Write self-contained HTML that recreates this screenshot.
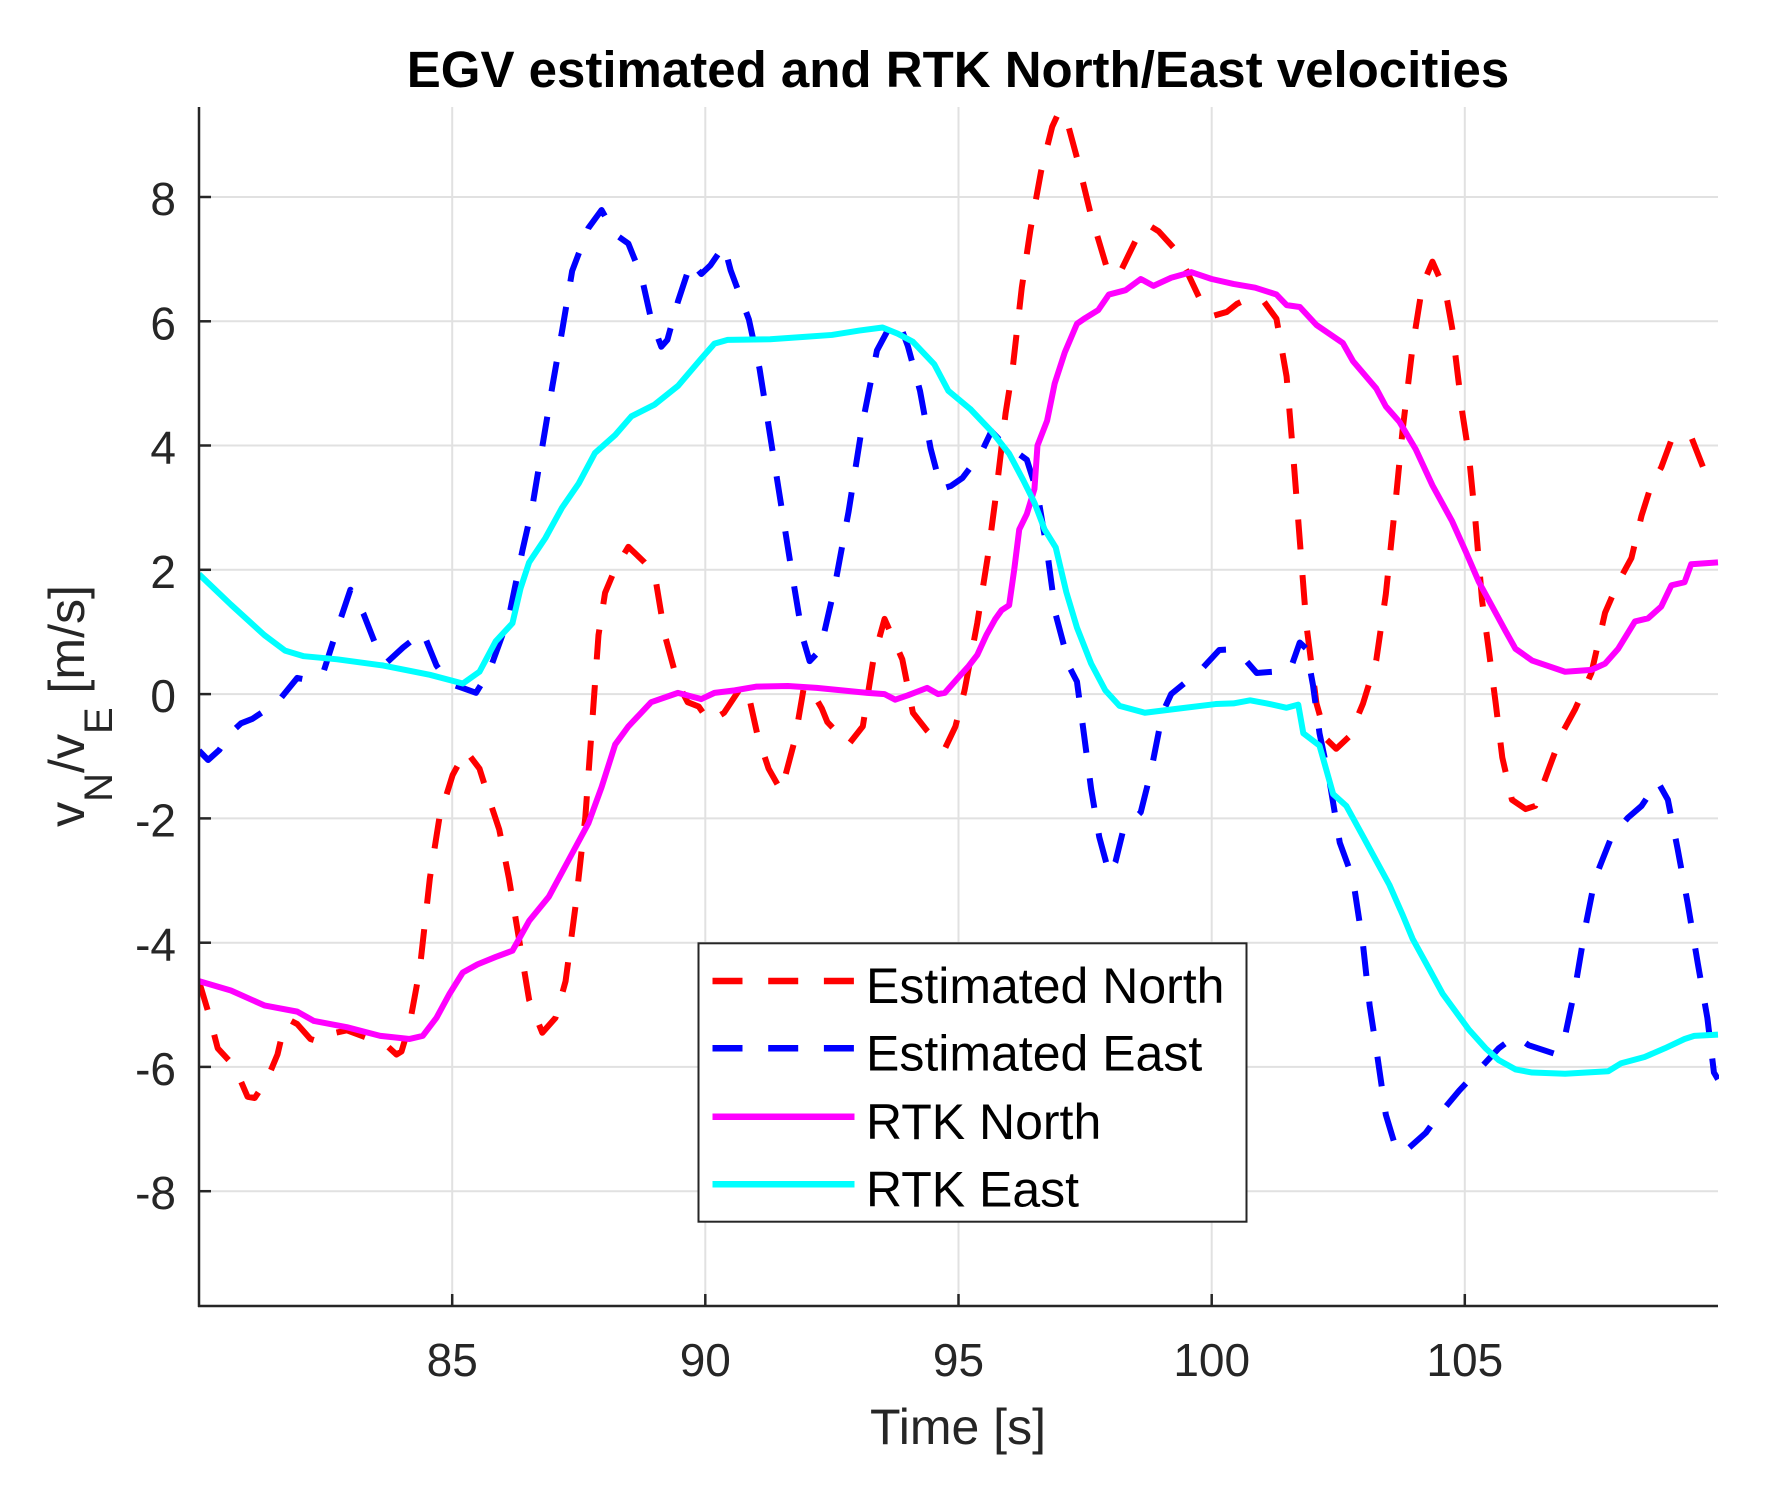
<!DOCTYPE html>
<html>
<head>
<meta charset="utf-8">
<style>
html,body{margin:0;padding:0;background:#fff;}
svg{display:block;}
text{font-family:"Liberation Sans",Arial,sans-serif;}
</style>
</head>
<body>
<svg width="1781" height="1490" viewBox="0 0 1781 1490" xmlns="http://www.w3.org/2000/svg">
<rect x="0" y="0" width="1781" height="1490" fill="#fff"/>
<defs>
<clipPath id="pc" clipPathUnits="userSpaceOnUse"><rect x="199" y="107" width="1520" height="1199"/></clipPath>
</defs>

<!-- grid -->
<g stroke="#e1e1e1" stroke-width="2" fill="none">
<line x1="452.2" y1="107" x2="452.2" y2="1306"/>
<line x1="705.3" y1="107" x2="705.3" y2="1306"/>
<line x1="958.5" y1="107" x2="958.5" y2="1306"/>
<line x1="1211.7" y1="107" x2="1211.7" y2="1306"/>
<line x1="1464.8" y1="107" x2="1464.8" y2="1306"/>
<line x1="199" y1="197.0" x2="1718" y2="197.0"/>
<line x1="199" y1="321.3" x2="1718" y2="321.3"/>
<line x1="199" y1="445.5" x2="1718" y2="445.5"/>
<line x1="199" y1="569.8" x2="1718" y2="569.8"/>
<line x1="199" y1="694.1" x2="1718" y2="694.1"/>
<line x1="199" y1="818.4" x2="1718" y2="818.4"/>
<line x1="199" y1="942.7" x2="1718" y2="942.7"/>
<line x1="199" y1="1066.9" x2="1718" y2="1066.9"/>
<line x1="199" y1="1191.2" x2="1718" y2="1191.2"/>
</g>

<!-- data -->
<g clip-path="url(#pc)">
<g transform="matrix(50.633 0 0 -62.14 -3851.64 694.1)" fill="none" stroke-linejoin="round">
<polyline vector-effect="non-scaling-stroke" stroke="#ff0000" stroke-width="6" stroke-dasharray="30 25.7" points="80,-4.62 80.18,-5.11 80.37,-5.7 80.7,-5.99 80.96,-6.48 81.1,-6.5 81.35,-6.19 81.55,-5.8 81.68,-5.35 81.8,-5.25 81.94,-5.31 82.2,-5.55 82.4,-5.6 82.7,-5.45 82.92,-5.41 83.38,-5.55 83.7,-5.65 83.9,-5.8 84.0,-5.75 84.16,-5.31 84.36,-4.43 84.56,-2.96 84.75,-1.98 85.01,-1.3 85.27,-0.91 85.54,-1.2 85.73,-1.69 85.93,-2.18 86.12,-2.96 86.32,-3.94 86.52,-4.92 86.78,-5.45 87.04,-5.21 87.24,-4.62 87.43,-3.45 87.63,-1.98 87.76,-0.52 87.89,0.95 88.02,1.63 88.22,2.02 88.48,2.37 88.8,2.12 89.0,1.93 89.2,0.95 89.46,0.17 89.65,-0.13 89.87,-0.2 90.08,-0.45 90.37,-0.3 90.72,0.13 90.85,0.0 91.03,-0.66 91.25,-1.2 91.5,-1.56 91.77,-0.73 91.95,0.13 92.1,0.05 92.3,-0.23 92.41,-0.45 92.83,-0.81 93.11,-0.52 93.32,0.56 93.54,1.21 93.89,0.56 94.1,-0.3 94.38,-0.59 94.73,-0.88 94.94,-0.52 95.12,0.06 95.37,1.14 95.58,2.22 95.72,3.08 95.93,4.52 96.07,5.24 96.25,6.54 96.42,7.47 96.63,8.41 96.85,9.13 96.99,9.38 97.15,9.2 97.35,8.6 97.6,7.76 97.97,6.75 98.2,6.8 98.6,7.47 98.75,7.55 98.95,7.45 99.24,7.19 99.5,6.82 99.87,6.18 100.04,6.09 100.3,6.15 100.5,6.28 100.76,6.38 101.02,6.33 101.28,6.04 101.48,5.11 101.61,3.85 101.74,2.48 101.87,1.12 102.07,-0.15 102.27,-0.73 102.46,-0.88 102.72,-0.68 102.99,-0.15 103.25,0.54 103.44,1.61 103.64,3.16 103.77,4.24 103.97,5.6 104.16,6.57 104.36,6.96 104.62,6.48 104.75,5.89 104.95,4.53 105.08,3.85 105.21,2.78 105.34,1.51 105.47,0.73 105.61,-0.15 105.74,-1.02 105.93,-1.7 106.2,-1.85 106.39,-1.8 106.65,-1.22 106.92,-0.63 107.18,-0.24 107.5,0.34 107.77,1.31 108.03,1.8 108.29,2.19 108.49,2.87 108.68,3.36 108.88,3.65 109.08,4.09 109.24,4.04 109.47,4.14 109.73,3.6 110,3.46"/>
<polyline vector-effect="non-scaling-stroke" stroke="#0000ff" stroke-width="6" stroke-dasharray="30 25.7" points="80,-0.91 80.18,-1.06 80.4,-0.9 80.63,-0.62 80.83,-0.47 81.05,-0.4 81.29,-0.27 81.55,-0.13 81.94,0.26 82.2,0.22 82.46,0.36 82.73,1.05 82.99,1.68 83.25,1.29 83.51,0.75 83.71,0.51 84.03,0.75 84.42,1.0 84.69,0.46 84.95,0.17 85.2,0.1 85.47,0.02 85.73,0.36 86.12,1.24 86.39,2.32 86.58,3.0 86.78,3.98 86.98,4.96 87.17,5.84 87.37,6.81 87.69,7.5 87.95,7.79 88.22,7.4 88.48,7.25 88.74,6.72 88.93,6.03 89.13,5.59 89.25,5.7 89.46,6.32 89.72,6.96 89.92,6.76 90.1,6.9 90.37,7.22 90.5,6.82 90.86,6.03 91.07,5.24 91.28,4.16 91.49,3.08 91.7,2.0 91.92,0.92 92.06,0.53 92.27,0.71 92.55,1.71 92.83,2.94 93.11,4.38 93.39,5.53 93.6,5.85 93.82,6.0 94.0,5.6 94.24,4.88 94.45,3.95 94.66,3.3 94.85,3.35 95.08,3.48 95.44,3.87 95.65,4.23 95.8,4.1 96.0,3.98 96.35,3.77 96.56,3.23 96.74,2.36 96.92,1.28 97.2,0.42 97.34,0.2 97.48,-0.66 97.62,-1.53 97.78,-2.3 97.98,-2.9 98.1,-2.7 98.25,-2.2 98.6,-1.9 98.8,-1.25 99.03,-0.3 99.2,0.0 99.5,0.2 99.8,0.4 100.15,0.71 100.4,0.72 100.58,0.63 100.89,0.34 101.22,0.36 101.55,0.39 101.74,0.83 101.87,0.73 102.0,0.15 102.13,-0.63 102.33,-1.41 102.53,-2.39 102.79,-2.97 102.99,-4.04 103.12,-5.01 103.25,-5.7 103.44,-6.77 103.6,-7.2 103.75,-7.4 103.9,-7.3 104.23,-7.06 104.49,-6.77 104.89,-6.38 105.34,-5.99 105.67,-5.7 106.0,-5.5 106.26,-5.65 106.78,-5.79 106.98,-5.5 107.18,-4.72 107.38,-3.75 107.57,-2.97 107.9,-2.29 108.22,-1.99 108.49,-1.8 108.81,-1.41 109.01,-1.7 109.2,-2.48 109.4,-3.36 109.6,-4.33 109.79,-5.21 109.92,-6.09 110,-6.2"/>
<polyline vector-effect="non-scaling-stroke" stroke="#ff00ff" stroke-width="6" points="80,-4.62 80.63,-4.77 81.29,-5.01 81.94,-5.11 82.27,-5.26 82.92,-5.36 83.58,-5.5 84.16,-5.55 84.42,-5.5 84.69,-5.21 84.95,-4.82 85.21,-4.48 85.5,-4.35 85.86,-4.23 86.19,-4.13 86.52,-3.65 86.91,-3.26 87.3,-2.67 87.69,-2.08 87.95,-1.5 88.22,-0.81 88.48,-0.52 88.93,-0.13 89.46,0.02 89.92,-0.08 90.18,0.02 90.58,0.06 91.0,0.12 91.63,0.13 92.2,0.1 92.7,0.06 93.2,0.02 93.54,0.0 93.75,-0.09 94.0,-0.02 94.38,0.1 94.6,0.0 94.73,0.02 95.0,0.27 95.2,0.45 95.37,0.63 95.55,0.95 95.72,1.2 95.85,1.35 96.0,1.43 96.1,2.0 96.2,2.65 96.35,2.9 96.5,3.3 96.56,4.0 96.75,4.4 96.9,5.0 97.1,5.5 97.34,5.96 97.5,6.05 97.76,6.18 97.97,6.43 98.3,6.5 98.6,6.68 98.85,6.57 99.2,6.7 99.6,6.79 100.0,6.68 100.43,6.6 100.86,6.54 101.28,6.43 101.48,6.26 101.74,6.23 102.07,5.94 102.59,5.65 102.79,5.36 103.25,4.92 103.44,4.63 103.71,4.38 104.03,3.94 104.36,3.36 104.75,2.78 105.02,2.29 105.28,1.8 105.54,1.41 105.8,1.02 106.0,0.73 106.33,0.54 106.98,0.36 107.5,0.39 107.77,0.49 108.03,0.73 108.36,1.17 108.62,1.22 108.88,1.41 109.08,1.75 109.34,1.8 109.47,2.09 110,2.12"/>
<polyline vector-effect="non-scaling-stroke" stroke="#00ffff" stroke-width="6" points="80,1.93 80.63,1.44 81.29,0.95 81.7,0.7 82.07,0.61 82.73,0.56 83.64,0.46 84.56,0.31 85.21,0.17 85.54,0.36 85.86,0.85 86.19,1.14 86.35,1.7 86.52,2.12 86.84,2.51 87.17,3.0 87.5,3.39 87.82,3.88 88.22,4.17 88.54,4.47 89.0,4.66 89.46,4.96 89.92,5.4 90.18,5.64 90.44,5.7 91.28,5.71 91.99,5.75 92.5,5.78 93.04,5.85 93.5,5.9 93.8,5.8 94.1,5.67 94.52,5.31 94.8,4.88 95.23,4.59 95.65,4.23 96.0,3.87 96.28,3.44 96.5,3.08 96.7,2.65 96.92,2.36 97.13,1.64 97.34,1.07 97.62,0.49 97.9,0.06 98.18,-0.19 98.68,-0.3 99.38,-0.23 100.08,-0.16 100.43,-0.15 100.76,-0.1 101.09,-0.15 101.48,-0.22 101.71,-0.17 101.81,-0.63 102.13,-0.83 102.4,-1.61 102.66,-1.8 102.99,-2.29 103.25,-2.68 103.51,-3.07 103.77,-3.55 103.97,-3.94 104.3,-4.43 104.56,-4.82 104.82,-5.11 105.08,-5.4 105.41,-5.7 105.67,-5.89 106.0,-6.04 106.33,-6.09 106.98,-6.11 107.83,-6.07 108.09,-5.94 108.55,-5.84 108.95,-5.7 109.34,-5.55 109.53,-5.5 110,-5.48"/>
</g>
</g>

<!-- axes -->
<g stroke="#262626" stroke-width="2.5" fill="none">
<line x1="199" y1="107" x2="199" y2="1307"/>
<line x1="198" y1="1306" x2="1718" y2="1306"/>
<line x1="199" y1="197.0" x2="211" y2="197.0"/>
<line x1="199" y1="321.3" x2="211" y2="321.3"/>
<line x1="199" y1="445.5" x2="211" y2="445.5"/>
<line x1="199" y1="569.8" x2="211" y2="569.8"/>
<line x1="199" y1="694.1" x2="211" y2="694.1"/>
<line x1="199" y1="818.4" x2="211" y2="818.4"/>
<line x1="199" y1="942.7" x2="211" y2="942.7"/>
<line x1="199" y1="1066.9" x2="211" y2="1066.9"/>
<line x1="199" y1="1191.2" x2="211" y2="1191.2"/>
<line x1="452.2" y1="1306" x2="452.2" y2="1294"/>
<line x1="705.3" y1="1306" x2="705.3" y2="1294"/>
<line x1="958.5" y1="1306" x2="958.5" y2="1294"/>
<line x1="1211.7" y1="1306" x2="1211.7" y2="1294"/>
<line x1="1464.8" y1="1306" x2="1464.8" y2="1294"/>
</g>

<!-- tick labels -->
<g fill="#262626" font-size="46" text-anchor="end">
<text x="176" y="215">8</text>
<text x="176" y="339.3">6</text>
<text x="176" y="463.5">4</text>
<text x="176" y="587.8">2</text>
<text x="176" y="712.1">0</text>
<text x="176" y="836.4">-2</text>
<text x="176" y="960.7">-4</text>
<text x="176" y="1084.9">-6</text>
<text x="176" y="1209.2">-8</text>
</g>
<g fill="#262626" font-size="46" text-anchor="middle">
<text x="452.2" y="1376">85</text>
<text x="705.3" y="1376">90</text>
<text x="958.5" y="1376">95</text>
<text x="1211.7" y="1376">100</text>
<text x="1464.8" y="1376">105</text>
</g>

<!-- axis labels -->
<text x="958" y="1444" font-size="50" fill="#262626" text-anchor="middle">Time [s]</text>
<text transform="translate(84,706) rotate(-90)" font-size="50" fill="#262626" text-anchor="middle">v<tspan font-size="40" dy="28">N</tspan><tspan dy="-28">/v</tspan><tspan font-size="40" dy="28">E</tspan><tspan dy="-28"> [m/s]</tspan></text>

<!-- title -->
<text x="958" y="87" font-size="51" font-weight="bold" fill="#000" text-anchor="middle">EGV estimated and RTK North/East velocities</text>

<!-- legend -->
<rect x="698.5" y="943.3" width="548" height="278.4" fill="#fff" stroke="#262626" stroke-width="2"/>
<g fill="none" stroke-width="6.5">
<line x1="712.5" y1="981" x2="854.5" y2="981" stroke="#ff0000" stroke-dasharray="30 25.7"/>
<line x1="712.5" y1="1048.3" x2="854.5" y2="1048.3" stroke="#0000ff" stroke-dasharray="30 25.7"/>
<line x1="712.5" y1="1116.7" x2="854.5" y2="1116.7" stroke="#ff00ff"/>
<line x1="712.5" y1="1184.3" x2="854.5" y2="1184.3" stroke="#00ffff"/>
</g>
<g fill="#000" font-size="50">
<text x="866" y="1003">Estimated North</text>
<text x="866" y="1070.5">Estimated East</text>
<text x="866" y="1139">RTK North</text>
<text x="866" y="1206.5">RTK East</text>
</g>
</svg>
</body>
</html>
